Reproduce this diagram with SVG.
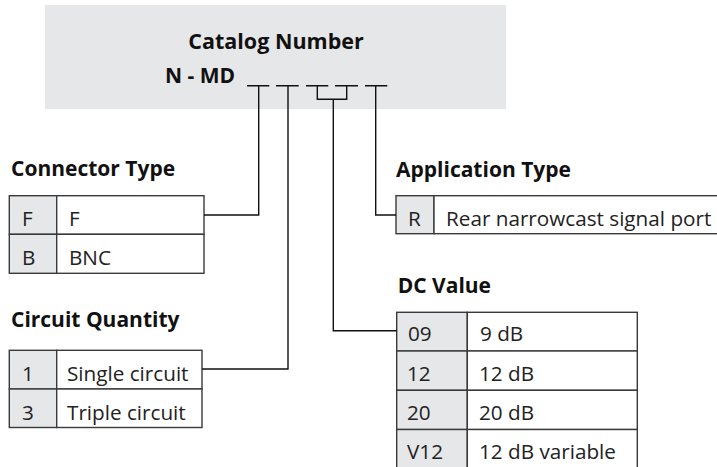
<svg xmlns="http://www.w3.org/2000/svg" width="717" height="467" viewBox="0 0 717 467">
<style>
  .bg{fill:#e6e7e8}
  .h{font-family:"Open Sans","Liberation Sans",sans-serif;font-weight:bold;font-size:21px;fill:#111}
  .t{font-family:"Open Sans","Liberation Sans",sans-serif;font-size:20.7px;fill:#222}
  .cell{stroke:#3a3a3a;stroke-width:1.4}
  .key{fill:#e6e7e8}
  .val{fill:#fff}
  .ln{fill:none;stroke:#111;stroke-width:1.4}
</style>
<rect width="717" height="467" fill="#fff"/>
<g id="catalog-number">
  <rect class="bg" x="45" y="5" width="461" height="104"/>
  <text class="h" x="276" y="49" text-anchor="middle" style="font-size:21.5px">Catalog Number</text>
  <text class="h" x="165" y="83">N - MD</text>
  <path class="ln" d="M247 85.7H269.3M276 85.7H298.7M306 85.7H328.3M335 85.7H358M365 85.7H387.3"/>
</g>
<g id="connector-type">
  <text class="h" x="11" y="176">Connector Type</text>
  <rect class="cell key" x="9.3" y="195.7" width="47.4" height="38.6"/>
  <rect class="cell val" x="56.7" y="195.7" width="147.3" height="38.6"/>
  <rect class="cell key" x="9.3" y="234.3" width="47.4" height="39"/>
  <rect class="cell val" x="56.7" y="234.3" width="147.3" height="39"/>
  <text class="t" x="22" y="226">F</text>
  <text class="t" x="69" y="226">F</text>
  <text class="t" x="22" y="265">B</text>
  <text class="t" x="69" y="265">BNC</text>
</g>
<g id="circuit-quantity">
  <text class="h" x="11" y="326.7">Circuit Quantity</text>
  <rect class="cell key" x="9.3" y="350.3" width="47.4" height="38.7"/>
  <rect class="cell val" x="56.7" y="350.3" width="145.3" height="38.7"/>
  <rect class="cell key" x="9.3" y="389" width="47.4" height="38.5"/>
  <rect class="cell val" x="56.7" y="389" width="145.3" height="38.5"/>
  <text class="t" x="22" y="381">1</text>
  <text class="t" x="67" y="381">Single circuit</text>
  <text class="t" x="22" y="419.5">3</text>
  <text class="t" x="67" y="419.5">Triple circuit</text>
</g>
<g id="application-type">
  <text class="h" x="396" y="176.7">Application Type</text>
  <rect class="cell key" x="396" y="195.7" width="38" height="38"/>
  <rect class="cell val" x="434" y="195.7" width="290" height="38"/>
  <text class="t" x="408" y="226">R</text>
  <text class="t" x="446" y="226">Rear narrowcast signal port</text>
</g>
<g id="dc-value">
  <text class="h" x="397.7" y="292.7">DC Value</text>
  <rect class="cell key" x="396.7" y="312.3" width="70.6" height="38.7"/>
  <rect class="cell val" x="467.3" y="312.3" width="170" height="38.7"/>
  <rect class="cell key" x="396.7" y="351" width="70.6" height="39.3"/>
  <rect class="cell val" x="467.3" y="351" width="170" height="39.3"/>
  <rect class="cell key" x="396.7" y="390.3" width="70.6" height="39.2"/>
  <rect class="cell val" x="467.3" y="390.3" width="170" height="39.2"/>
  <rect class="cell key" x="396.7" y="429.5" width="70.6" height="45"/>
  <rect class="cell val" x="467.3" y="429.5" width="170" height="45"/>
  <text class="t" x="408" y="341">09</text>
  <text class="t" x="480" y="341">9 dB</text>
  <text class="t" x="407" y="380.5">12</text>
  <text class="t" x="479" y="380.5">12 dB</text>
  <text class="t" x="407" y="419.5">20</text>
  <text class="t" x="479" y="419.5">20 dB</text>
  <text class="t" x="407" y="459">V12</text>
  <text class="t" x="479" y="459">12 dB variable</text>
</g>
<g id="connectors">
  <path class="ln" d="M258.7 85.7V215H204"/>
  <path class="ln" d="M288 85.7V369H202"/>
  <path class="ln" d="M317.3 85.7V99.3H346.7V85.7M333.3 99.3V330.7H396.7"/>
  <path class="ln" d="M375.7 85.7V215H396"/>
</g>
</svg>
